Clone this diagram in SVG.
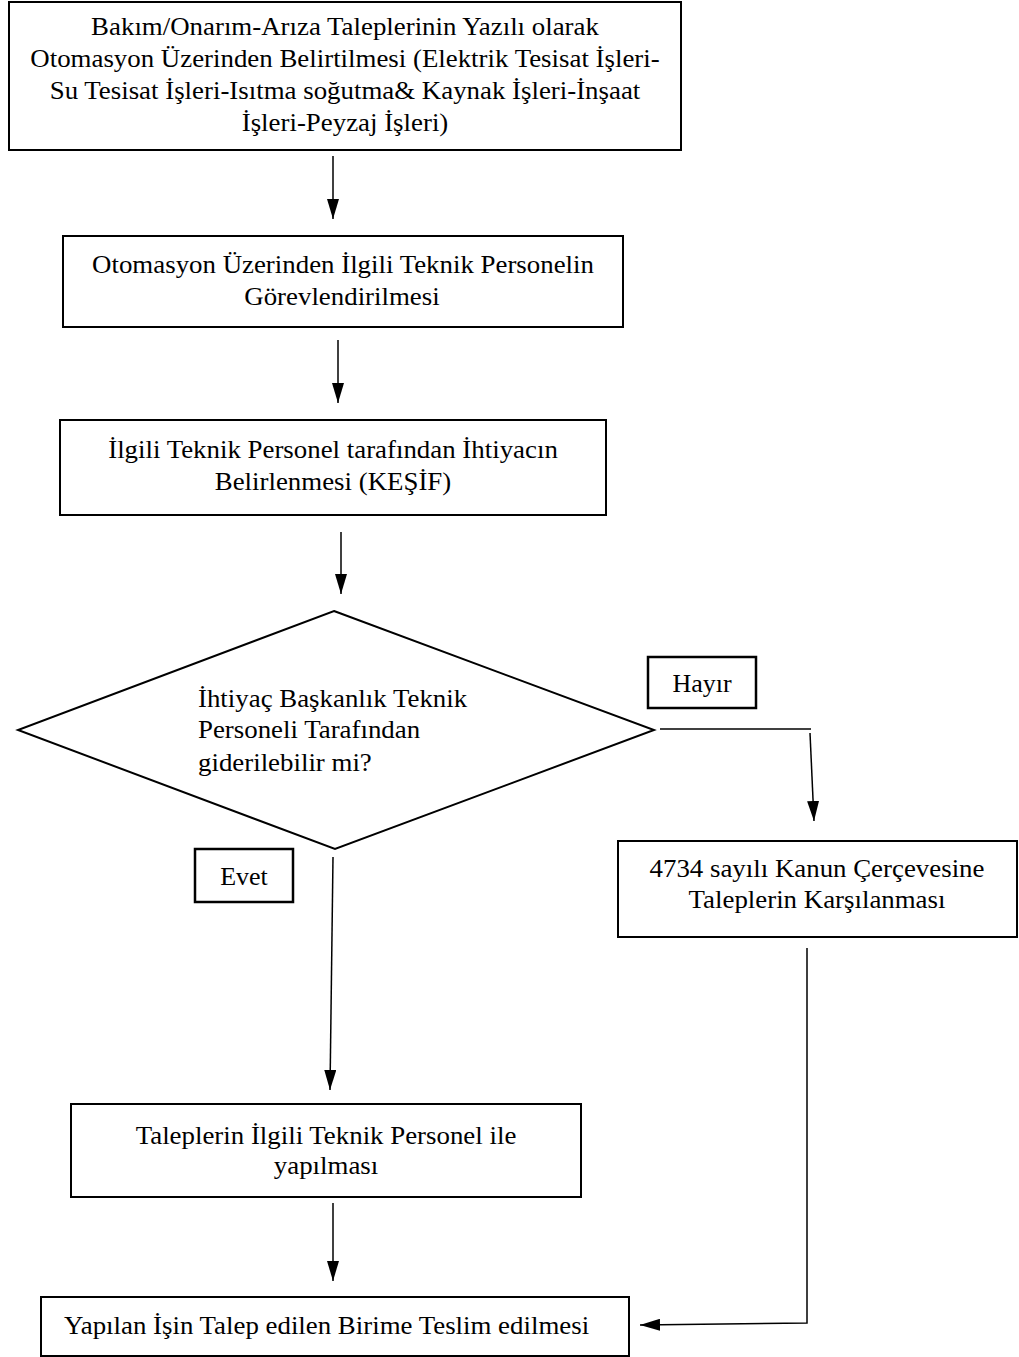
<svg xmlns="http://www.w3.org/2000/svg" width="1019" height="1357" viewBox="0 0 1019 1357">
<style>
.box{fill:#fff;stroke:#000;stroke-width:2}
.lbl{fill:#fff;stroke:#000;stroke-width:2.5}
.t{font-family:"Liberation Serif","Times New Roman",serif;font-size:25px;fill:#000}
.c{text-anchor:middle}
.ln{fill:none;stroke:#000;stroke-width:1.5}
</style>
<defs>
<marker id="ahb" viewBox="0 0 20 12" refX="20" refY="6" markerWidth="20" markerHeight="12" orient="auto" markerUnits="userSpaceOnUse">
<path d="M0,0 L20,6 L0,12 z" fill="#000"/>
</marker>
</defs>
<rect width="1019" height="1357" fill="#fff"/>
<g id="n1">
<rect class="box" x="9" y="2" width="672" height="148"/>
<text class="t c" transform="translate(345,35) scale(1.075,1)">Bakım/Onarım-Arıza Taleplerinin Yazılı olarak</text>
<text class="t c" transform="translate(345,67) scale(1.075,1)">Otomasyon Üzerinden Belirtilmesi (Elektrik Tesisat İşleri-</text>
<text class="t c" transform="translate(345,99) scale(1.075,1)">Su Tesisat İşleri-Isıtma soğutma&amp; Kaynak İşleri-İnşaat</text>
<text class="t c" transform="translate(345,131) scale(1.075,1)">İşleri-Peyzaj İşleri)</text>
</g>
<g id="n2">
<rect class="box" x="63" y="236" width="560" height="91"/>
<text class="t c" transform="translate(343,273) scale(1.075,1)">Otomasyon Üzerinden İlgili Teknik Personelin</text>
<text class="t c" transform="translate(342,305) scale(1.075,1)">Görevlendirilmesi</text>
</g>
<g id="n3">
<rect class="box" x="60" y="420" width="546" height="95"/>
<text class="t c" transform="translate(333,458) scale(1.075,1)">İlgili Teknik Personel tarafından İhtiyacın</text>
<text class="t c" transform="translate(333,490) scale(1.075,1)">Belirlenmesi (KEŞİF)</text>
</g>
<g id="n4">
<polygon class="box" points="334,611 654,730 335,849 18,730"/>
<text class="t" transform="translate(198,707) scale(1.075,1)">İhtiyaç Başkanlık Teknik</text>
<text class="t" transform="translate(198,738) scale(1.075,1)">Personeli Tarafından</text>
<text class="t" transform="translate(198,771) scale(1.075,1)">giderilebilir mi?</text>
</g>
<g id="hayir">
<rect class="lbl" x="648" y="657" width="108" height="51"/>
<text class="t c" transform="translate(702,692) scale(1.04,1)">Hayır</text>
</g>
<g id="evet">
<rect class="lbl" x="195" y="849" width="98" height="53"/>
<text class="t c" transform="translate(244,885) scale(1.04,1)">Evet</text>
</g>
<g id="n5">
<rect class="box" x="618" y="841" width="399" height="96"/>
<text class="t c" transform="translate(817,877) scale(1.075,1)">4734 sayılı Kanun Çerçevesine</text>
<text class="t c" transform="translate(817,908) scale(1.075,1)">Taleplerin Karşılanması</text>
</g>
<g id="n6">
<rect class="box" x="71" y="1104" width="510" height="93"/>
<text class="t c" transform="translate(326,1144) scale(1.075,1)">Taleplerin İlgili Teknik Personel ile</text>
<text class="t c" transform="translate(326,1174) scale(1.075,1)">yapılması</text>
</g>
<g id="n7">
<rect class="box" x="41" y="1297" width="588" height="59"/>
<text class="t" transform="translate(64,1334) scale(1.075,1)">Yapılan İşin Talep edilen Birime Teslim edilmesi</text>
</g>
<g id="connectors">
<line class="ln" x1="333" y1="156" x2="333" y2="219" marker-end="url(#ahb)"/>
<line class="ln" x1="338" y1="340" x2="338" y2="403" marker-end="url(#ahb)"/>
<line class="ln" x1="341" y1="532" x2="341" y2="594" marker-end="url(#ahb)"/>
<line class="ln" x1="660" y1="729" x2="811" y2="729"/>
<line class="ln" x1="810" y1="733" x2="814" y2="821" marker-end="url(#ahb)"/>
<line class="ln" x1="333" y1="857" x2="330" y2="1090" marker-end="url(#ahb)"/>
<line class="ln" x1="333" y1="1203" x2="333" y2="1281" marker-end="url(#ahb)"/>
<polyline class="ln" points="807,948 807,1323 640,1325" marker-end="url(#ahb)"/>
</g>
</svg>
